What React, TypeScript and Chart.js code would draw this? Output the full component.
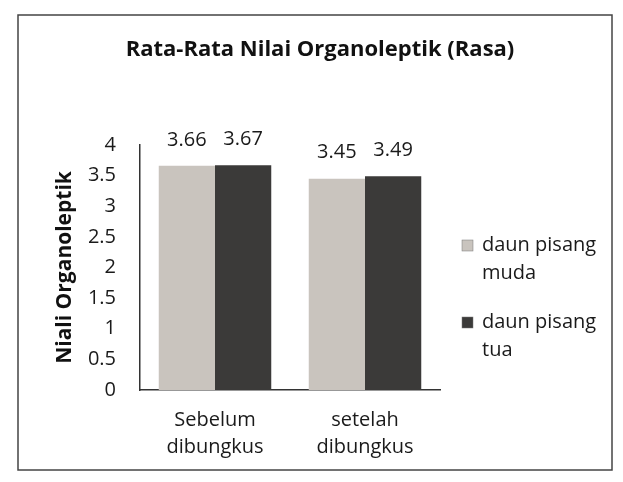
import React, { useEffect, useRef } from "react";
import { Chart, registerables } from "chart.js";

Chart.register(...registerables);

const categories: string[][] = [["Sebelum", "dibungkus"], ["setelah", "dibungkus"]];
const seriesNames: string[][] = [["daun pisang", "muda"], ["daun pisang", "tua"]];
const mudaValues: number[] = [3.66, 3.45];
const tuaValues: number[] = [3.67, 3.49];
const yTicks: number[] = [0, 0.5, 1, 1.5, 2, 2.5, 3, 3.5, 4];
const chartTitle = "Rata-Rata Nilai Organoleptik (Rasa)";
const yTitle = "Niali Organoleptik";

const colors = ["#c9c4be", "#3b3a39"];
const FONT = "'Open Sans', Lato, sans-serif";

export default function App() {
  const ref = useRef<HTMLCanvasElement | null>(null);
  useEffect(() => {
    document.body.style.margin = "0";
    const canvas = ref.current!;
    const framePlugin = {
      id: "frame",
      beforeDraw(chart: any) {
        const ctx = chart.ctx;
        ctx.save();
        ctx.fillStyle = "#ffffff";
        ctx.fillRect(0, 0, chart.width, chart.height);
        ctx.strokeStyle = "#444";
        ctx.lineWidth = 1.5;
        ctx.strokeRect(18, 15, 594, 455);
        ctx.fillStyle = "#111";
        ctx.font = `bold 22px ${FONT}`;
        ctx.textAlign = "center";
        ctx.textBaseline = "middle";
        ctx.fillText(chartTitle, 320, 50);
        ctx.restore();
      },
      afterDatasetsDraw(chart: any) {
        const ctx = chart.ctx;
        ctx.save();
        ctx.fillStyle = "#1a1a1a";
        ctx.font = `20px ${FONT}`;
        ctx.textAlign = "center";
        ctx.textBaseline = "middle";
        chart.data.datasets.forEach((ds: any, di: number) => {
          const meta = chart.getDatasetMeta(di);
          meta.data.forEach((bar: any, i: number) => {
            ctx.fillText(ds.data[i].toFixed(2), bar.x, bar.y - 26);
          });
        });
        // legend
        const lx = 462;
        const ly = [245, 322];
        seriesNames.forEach((lines, i) => {
          ctx.fillStyle = colors[i];
          ctx.fillRect(lx, ly[i] - 5, 11, 11);
          ctx.strokeStyle = "#777";
          ctx.lineWidth = 0.5;
          ctx.strokeRect(lx, ly[i] - 5, 11, 11);
          ctx.fillStyle = "#1a1a1a";
          ctx.textAlign = "left";
          lines.forEach((t, j) => ctx.fillText(t, 482, ly[i] + j * 28));
        });
        ctx.restore();
      },
    };
    const chart = new Chart(canvas, {
      type: "bar",
      data: {
        labels: categories,
        datasets: [
          { label: seriesNames[0].join(" "), data: mudaValues, backgroundColor: colors[0] },
          { label: seriesNames[1].join(" "), data: tuaValues, backgroundColor: colors[1] },
        ],
      },
      options: {
        animation: false,
        responsive: false,
        maintainAspectRatio: false,
        layout: { padding: { left: 52, right: 183, top: 145, bottom: 0 } },
        plugins: { legend: { display: false }, title: { display: false }, tooltip: { enabled: false } },
        datasets: { bar: { categoryPercentage: 0.75, barPercentage: 1 } } as any,
        scales: {
          x: {
            grid: { display: false },
            border: { display: true, color: "#333", width: 1.5 },
            ticks: { color: "#1a1a1a", font: { family: FONT, size: 20, lineHeight: 1.35 }, padding: 9, maxRotation: 0 },
            afterFit: (s: any) => { s.height = 92; },
          },
          y: {
            min: 0,
            max: 4,
            afterBuildTicks: (s: any) => { s.ticks = yTicks.map((v) => ({ value: v })); },
            grid: { display: false },
            border: { display: true, color: "#333", width: 1.5 },
            ticks: { color: "#1a1a1a", font: { family: FONT, size: 20 }, padding: 16, callback: (v: any) => String(v) },
            title: { display: true, text: yTitle, color: "#111", font: { family: FONT, size: 21, weight: "bold" }, padding: 0 },
            afterFit: (s: any) => { s.width = 88; },
          },
        },
      },
      plugins: [framePlugin],
    });
    return () => chart.destroy();
  }, []);
  return (
    <div style={{ position: "absolute", left: 0, top: 0 }}>
      <canvas ref={ref} width={623} height={482} style={{ width: 623, height: 482, display: "block" }} />
    </div>
  );
}
